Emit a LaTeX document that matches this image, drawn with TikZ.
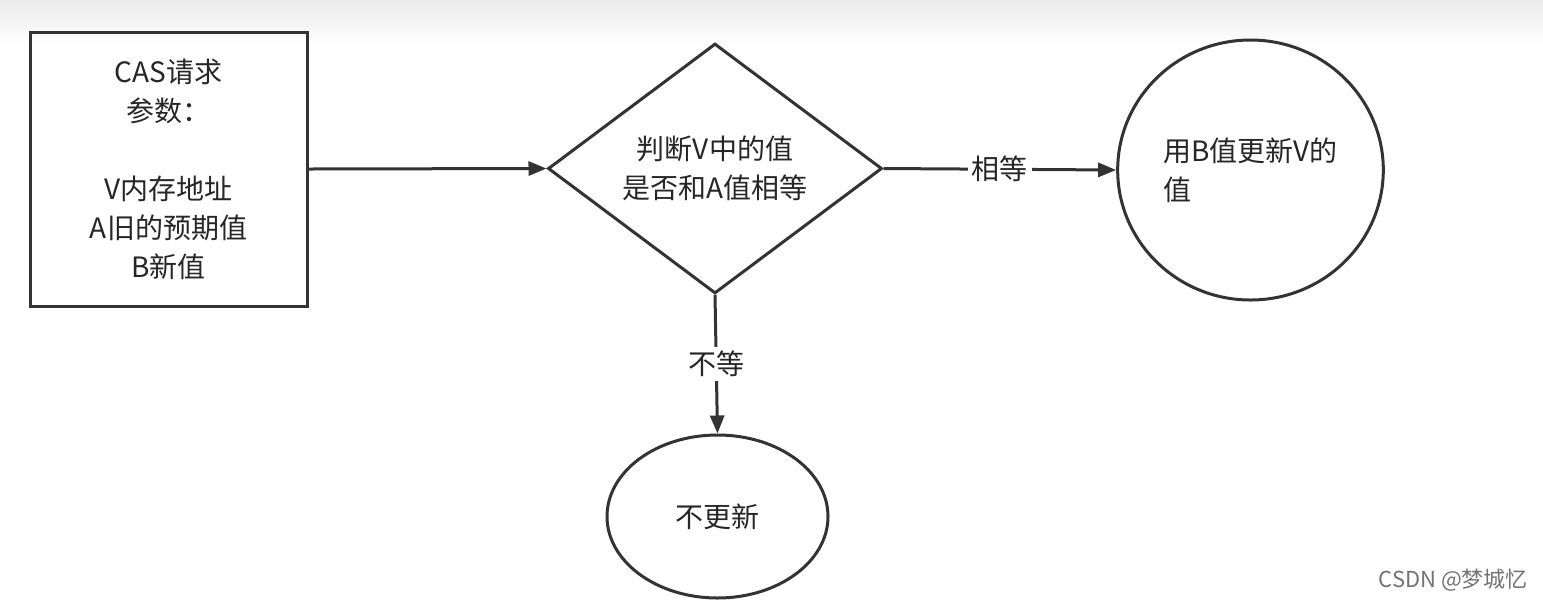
\documentclass[tikz,border=0pt]{standalone}
\usepackage{fontspec}
\setmainfont{Noto Sans CJK SC}
\usetikzlibrary{shapes.geometric,arrows.meta}
\begin{document}
\begin{tikzpicture}[x=0.5pt,y=-0.5pt,
  every node/.style={font=\fontsize{14}{19.5}\selectfont,text=black!85},
  ln/.style={line width=1.5pt,draw=black!80},
  arr/.style={ln,-{Triangle[length=9pt,width=7pt]}},
  lbl/.style={fill=white,inner sep=2pt}]
\useasboundingbox[fill=white] (0,0) rectangle (1543,607);
\shade[top color=black!8,bottom color=white] (0,0) rectangle (1543,45);
\node[ln,rectangle,minimum width=138.5pt,minimum height=137pt,align=center] (req) at (168.5,169)
 {CAS请求\\参数：\\[19.5pt]V内存地址\\A旧的预期值\\B新值};
\node[ln,diamond,minimum width=167pt,minimum height=96.5pt,inner sep=0pt,align=center] (dec) at (715,168.5)
 {判断V中的值\\是否和A值相等};
\node[ln,ellipse,minimum width=122.5pt,minimum height=130pt,align=left] (upd) at (1250.5,170)
 {用B值更新V的\\值};
\node[ln,ellipse,minimum width=110.5pt,minimum height=81.5pt] (no) at (717.5,516.5) {不更新};
\draw[arr] (req.east) -- (dec.west);
\draw[arr] (dec.east) -- node[lbl]{相等} (upd.west);
\draw[arr] (dec.south) -- node[lbl,pos=0.5]{不等} (no.north);
\node[text=black!55,font=\fontsize{11}{13}\selectfont,anchor=east] (wm) at (1535,580) {CSDN @梦城忆};
\end{tikzpicture}
\end{document}
